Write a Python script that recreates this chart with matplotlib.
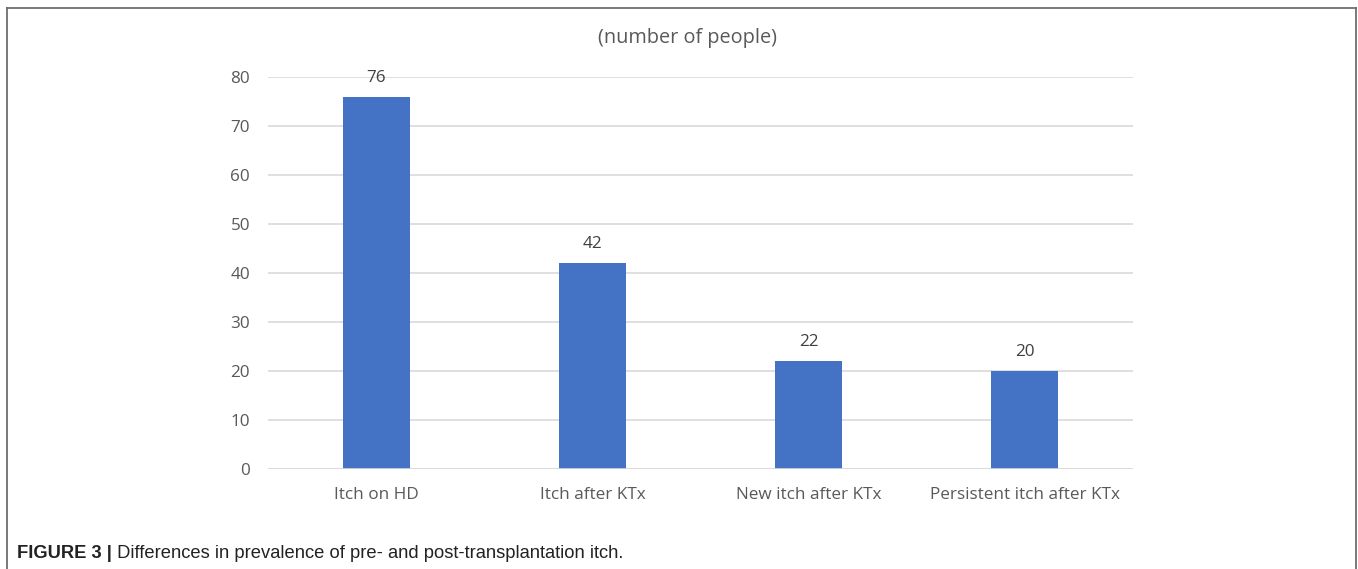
import matplotlib
matplotlib.use("Agg")
import matplotlib.pyplot as plt
from matplotlib import font_manager

categories = ["Itch on HD", "Itch after KTx", "New itch after KTx", "Persistent itch after KTx"]
values = [76, 42, 22, 20]
yticks = [0, 10, 20, 30, 40, 50, 60, 70, 80]
title = "(number of people)"
caption_bold = "FIGURE 3 |"
caption_text = " Differences in prevalence of pre- and post-transplantation itch."

names = {f.name for f in font_manager.fontManager.ttflist}
cap_font = "Liberation Sans Narrow" if "Liberation Sans Narrow" in names else "Liberation Sans"

W, H = 1358, 569
fig = plt.figure(figsize=(W / 100, H / 100), dpi=100)
fig.patch.set_facecolor("white")

# outer border box (open at bottom)
bc = "#6e6e6e"
fig.add_artist(plt.Line2D([7 / W, 7 / W], [0, 1 - 8 / H], color=bc, lw=1.3, transform=fig.transFigure))
fig.add_artist(plt.Line2D([7 / W, 1356 / W], [1 - 8 / H, 1 - 8 / H], color=bc, lw=1.3, transform=fig.transFigure))
fig.add_artist(plt.Line2D([1356 / W, 1356 / W], [0, 1 - 8 / H], color=bc, lw=1.3, transform=fig.transFigure))

x0, x1 = 268, 1133
y_top, y_bot = 77, 469
ax = fig.add_axes([x0 / W, 1 - y_bot / H, (x1 - x0) / W, (y_bot - y_top) / H])
ax.set_facecolor("none")

font = "Open Sans"
gray = "#595959"
fs = 12.3
pos = list(range(len(categories)))
ax.bar(pos, values, width=0.31, color="#4472C4", zorder=3)
ax.set_xlim(-0.5, len(categories) - 0.5)
ax.set_ylim(0, 80)
ax.set_yticks(yticks)
ax.set_yticklabels([str(t) for t in yticks], fontsize=fs, color=gray, family=font)
ax.set_xticks(pos)
ax.set_xticklabels(categories, fontsize=fs, color=gray, family=font)
ax.tick_params(axis="both", length=0)
ax.tick_params(axis="y", pad=13)
ax.tick_params(axis="x", pad=13)
ax.grid(axis="y", color="#d9d9d9", lw=1.2, zorder=0)
for s in ax.spines.values():
    s.set_visible(False)
ax.axhline(0, color="#d9d9d9", lw=1.2, zorder=4)

for p, v in zip(pos, values):
    ax.annotate(str(v), (p, v), xytext=(0, 13.5), textcoords="offset points",
                ha="center", va="center", fontsize=fs, color="#404040", family=font)

fig.text(687 / W, 1 - 38 / H, title, ha="center", va="center", fontsize=14.3, color=gray, family=font)

cfs = 13.2
t1 = fig.text(17 / W, 1 - 553 / H, caption_bold, ha="left", va="center", fontsize=cfs,
              fontweight="bold", color="#222222", family=cap_font)
fig.canvas.draw()
bb = t1.get_window_extent()
fig.text(bb.x1 / W, 1 - 553 / H, caption_text, ha="left", va="center", fontsize=cfs,
         color="#222222", family=cap_font)

fig.savefig("out.png", dpi=100, facecolor="white")
